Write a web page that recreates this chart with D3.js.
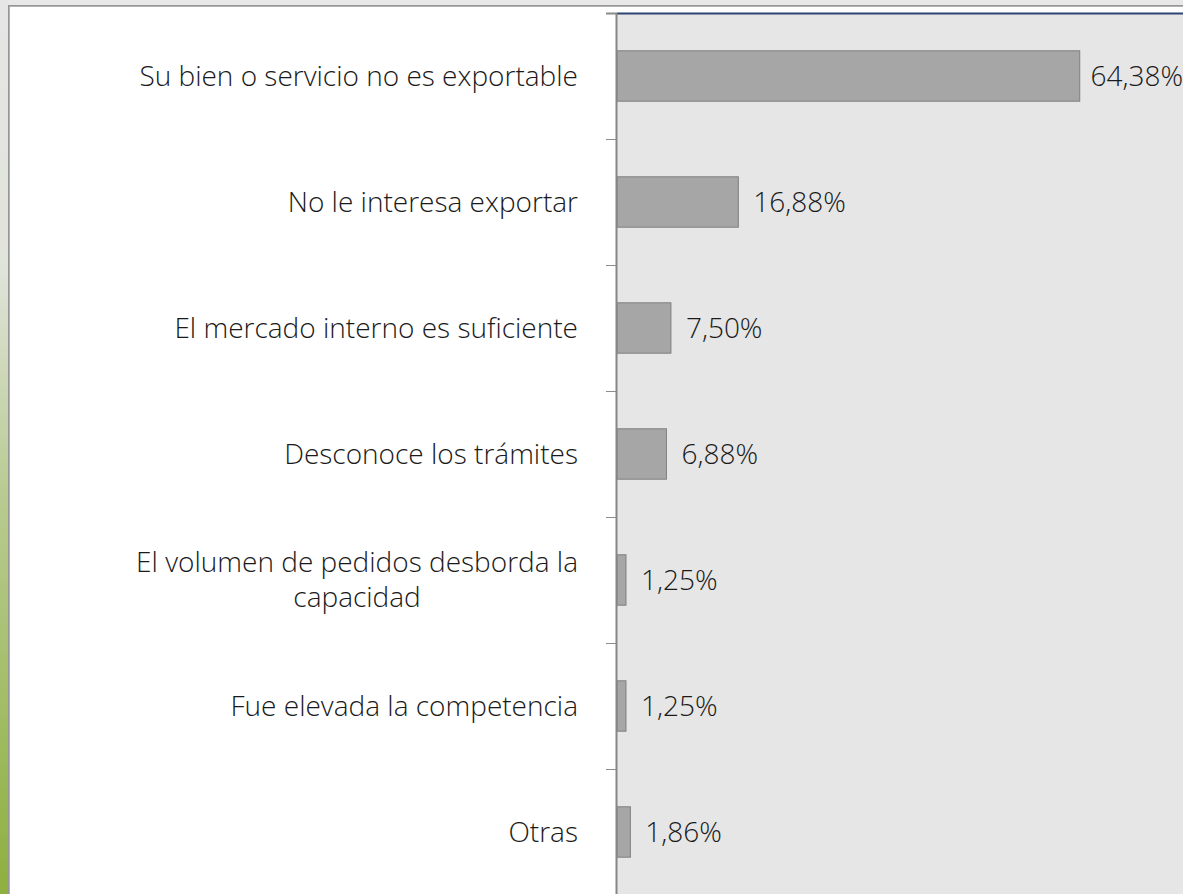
<!DOCTYPE html>
<html>
<head>
<meta charset="utf-8">
<script src="https://cdn.jsdelivr.net/npm/d3@7"></script>
<style>
  html, body { margin: 0; padding: 0; background: #e8e8e8; overflow: hidden; }
  text { font-family: "Open Sans", "Noto Sans", sans-serif; font-weight: 300; fill: #1a1a1a; }
</style>
</head>
<body>
<svg id="chart"></svg>
<script>
const W = 1183, H = 894

// Data
const categories = [
    'Su bien o servicio no es exportable',
    'No le interesa exportar',
    'El mercado interno es suficiente',
    'Desconoce los trámites',
    'El volumen de pedidos desborda la capacidad',
    'Fue elevada la competencia',
    'Otras'
]
const values = [64.38, 16.88, 7.50, 6.88, 1.25, 1.25, 1.86]
const valueLabels = ['64,38%', '16,88%', '7,50%', '6,88%', '1,25%', '1,25%', '1,86%']
const xMax = 80

const plot = { left: 616, top: 13, bottom: 895, right: 1192 },
    labelRight = 578,
    wrapWidth = 480,
    fontSize = 28

const svg = d3.select('#chart')
    .attr('width', W)
    .attr('height', H)

// Frame with the green side strip
const defs = svg.append('defs')
const grad = defs.append('linearGradient')
    .attr('id', 'strip').attr('x1', 0).attr('y1', 0).attr('x2', 0).attr('y2', 1)
grad.append('stop').attr('offset', 0).attr('stop-color', '#e6e6e6')
grad.append('stop').attr('offset', 0.3).attr('stop-color', '#e0e3da')
grad.append('stop').attr('offset', 0.55).attr('stop-color', '#b9cb92')
grad.append('stop').attr('offset', 1).attr('stop-color', '#8db03f')

svg.append('rect').attr('x', 0).attr('y', 0).attr('width', W).attr('height', H).attr('fill', '#e8e8e8')
svg.append('rect').attr('x', 0).attr('y', 0).attr('width', 8).attr('height', H).attr('fill', 'url(#strip)')
svg.append('rect').attr('x', 8).attr('y', 5).attr('width', W).attr('height', H).attr('fill', '#959595')
svg.append('rect').attr('x', 9.5).attr('y', 6.5).attr('width', W).attr('height', H).attr('fill', '#d0d0d0')
svg.append('rect').attr('x', 10).attr('y', 7).attr('width', W).attr('height', H).attr('fill', '#ffffff')

// Scales
const x = d3.scaleLinear().domain([0, xMax]).range([plot.left + 1, plot.right])
const y = d3.scaleBand().domain(categories).range([plot.top, plot.bottom])
    .paddingInner(0.6).paddingOuter(0.3)
const yEdge = d3.scaleLinear().domain([0, categories.length]).range([plot.top, plot.bottom])

// Plot area
svg.append('rect')
    .attr('x', plot.left).attr('y', plot.top)
    .attr('width', plot.right - plot.left).attr('height', plot.bottom - plot.top)
    .attr('fill', '#e6e6e6')
svg.append('line')
    .attr('x1', plot.left + 1).attr('x2', W)
    .attr('y1', plot.top + 0.5).attr('y2', plot.top + 0.5)
    .attr('stroke', '#2e4470').attr('stroke-width', 2)

// Bars
svg.append('g').selectAll('rect')
    .data(categories)
    .join('rect')
    .attr('x', x(0))
    .attr('y', d => y(d))
    .attr('width', (d, i) => x(values[i]) - x(0))
    .attr('height', y.bandwidth())
    .attr('fill', '#a6a6a6')
    .attr('stroke', '#7f7f7f')
    .attr('stroke-width', 1)

// Axis with ticks on category boundaries
const axis = svg.append('g')
    .attr('transform', `translate(${plot.left},0)`)
    .call(d3.axisLeft(yEdge).ticks(categories.length).tickSize(10).tickFormat(''))
axis.select('.domain').attr('stroke', '#868686').attr('stroke-width', 2)
axis.selectAll('.tick line').attr('stroke', '#8c8c8c')

// Category labels, wrapped and centred as a block, block right aligned
const lineH = 35
categories.forEach(cat => {
    const g = svg.append('g')
    const words = cat.split(' ')
    const lines = []
    let cur = []
    const probe = g.append('text').style('font-size', fontSize + 'px')
    words.forEach(w => {
        const trial = cur.concat(w).join(' ')
        probe.text(trial)
        if (probe.node().getComputedTextLength() > wrapWidth && cur.length) {
            lines.push(cur.join(' '))
            cur = [w]
        } else {
            cur.push(w)
        }
    })
    lines.push(cur.join(' '))
    let blockW = 0
    lines.forEach(l => {
        probe.text(l)
        blockW = Math.max(blockW, probe.node().getComputedTextLength())
    })
    probe.remove()
    const cy = y(cat) + y.bandwidth() / 2
    const cx = lines.length > 1 ? labelRight - blockW / 2 : labelRight
    lines.forEach((l, k) => {
        g.append('text')
            .attr('x', cx)
            .attr('y', cy + (k - (lines.length - 1) / 2) * lineH)
            .attr('dy', '0.35em')
            .attr('text-anchor', lines.length > 1 ? 'middle' : 'end')
            .style('font-size', fontSize + 'px')
            .text(l)
    })
})

// Value labels
svg.append('g').selectAll('text')
    .data(categories)
    .join('text')
    .attr('y', d => y(d) + y.bandwidth() / 2)
    .attr('dy', '0.35em')
    .style('font-size', fontSize + 'px')
    .text((d, i) => valueLabels[i])
    .attr('x', function (d, i) {
        const w = this.getComputedTextLength()
        return Math.min(x(values[i]) + 15, W - w)
    })
</script>
</body>
</html>
